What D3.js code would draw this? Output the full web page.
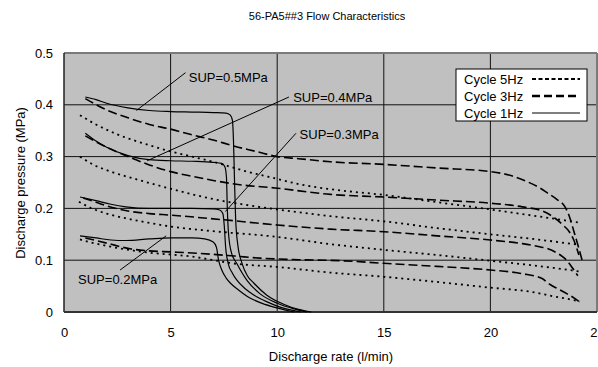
<!DOCTYPE html>
<html>
<head>
<meta charset="utf-8">
<script src="https://cdn.jsdelivr.net/npm/d3@7"></script>
<style>
  body { margin: 0; background: #fff; }
  svg { display: block; font-family: "Liberation Sans", Arial, sans-serif; }
</style>
</head>
<body>
<svg id="chart" width="598" height="367"></svg>
<script>
// axis ticks
const xTicks = [0, 5, 10, 15, 20, 25];
const yTicks = [0, 0.1, 0.2, 0.3, 0.4, 0.5];

// Cycle 1Hz (solid)
const c1_05 = [[1,0.415],[1.5,0.41],[2,0.403],[3,0.394],[4,0.389],[5,0.387],[6,0.386],[7,0.385],[7.6,0.384],[7.8,0.38],[7.9,0.37],[7.95,0.33],[8.0,0.25],[8.05,0.18],[8.15,0.13],[8.35,0.094],[8.6,0.07],[8.9,0.056],[9.5,0.033],[10.3,0.015],[11,0.005],[11.6,0]];
const c1_04 = [[1,0.345],[1.5,0.33],[2,0.318],[3,0.302],[4,0.294],[5,0.292],[6,0.291],[7,0.289],[7.4,0.287],[7.55,0.28],[7.62,0.26],[7.66,0.2],[7.72,0.15],[7.85,0.115],[8.1,0.094],[8.6,0.06],[9.2,0.035],[10,0.017],[10.8,0.006],[11.4,0]];
const c1_03 = [[0.75,0.222],[1.5,0.215],[2.2,0.208],[2.9,0.203],[4,0.2],[5,0.2],[6,0.2],[7,0.199],[7.3,0.197],[7.45,0.19],[7.52,0.165],[7.58,0.126],[7.7,0.094],[7.9,0.075],[8.1,0.062],[8.5,0.045],[8.9,0.033],[9.5,0.02],[10.1,0.01],[11.1,0]];
const c1_02 = [[0.75,0.147],[1.5,0.143],[2.2,0.139],[2.9,0.138],[4,0.141],[5,0.143],[6,0.143],[6.6,0.141],[7.0,0.135],[7.15,0.125],[7.25,0.1],[7.4,0.081],[7.6,0.066],[7.8,0.056],[8.2,0.042],[8.6,0.03],[9.2,0.018],[9.8,0.01],[10.8,0]];

// Cycle 3Hz (dashed)
const c3_05 = [[1,0.412],[2,0.39],[3,0.375],[4,0.362],[5,0.353],[6,0.342],[7,0.332],[8,0.32],[9,0.31],[10,0.30],[11,0.296],[12.5,0.29],[15,0.285],[17.5,0.278],[20,0.271],[21,0.263],[21.7,0.252],[22.3,0.24],[22.7,0.229],[23.1,0.218],[23.5,0.203],[23.7,0.185],[23.9,0.158],[24.1,0.13],[24.3,0.1]];
const c3_04 = [[1,0.34],[2,0.318],[3,0.3],[4,0.284],[5,0.271],[6,0.262],[7,0.254],[8,0.247],[10,0.239],[12.5,0.227],[15,0.222],[17.5,0.216],[20,0.21],[21.5,0.203],[22.5,0.194],[23,0.182],[23.4,0.168],[23.7,0.155],[23.9,0.14],[24.15,0.11]];
const c3_03 = [[0.9,0.22],[1.5,0.212],[2,0.205],[3,0.195],[4,0.19],[5,0.187],[7.5,0.178],[10,0.168],[12.5,0.16],[15,0.155],[17.5,0.147],[20,0.139],[21.5,0.132],[22.3,0.126],[22.7,0.122],[23.2,0.112],[23.5,0.103],[23.8,0.088],[24.1,0.07]];
const c3_02 = [[1,0.143],[2,0.133],[3.1,0.122],[4,0.118],[5,0.116],[6.4,0.113],[8,0.108],[9.2,0.104],[11,0.101],[13,0.099],[15,0.094],[17.5,0.088],[20,0.081],[21.5,0.074],[22.4,0.065],[22.8,0.053],[23.2,0.044],[23.6,0.035],[24,0.025],[24.25,0.017]];

// Cycle 5Hz (dotted)
const c5_05 = [[0.75,0.38],[1.5,0.362],[2.5,0.343],[4,0.322],[5,0.31],[6,0.3],[7,0.29],[8.5,0.272],[10,0.257],[11,0.247],[12.5,0.237],[15,0.226],[17.5,0.212],[20,0.198],[22,0.186],[23,0.18],[24.1,0.173]];
const c5_04 = [[0.75,0.30],[1.4,0.284],[2.2,0.271],[3.5,0.255],[5,0.238],[7,0.218],[8.5,0.207],[10,0.198],[12.5,0.185],[15,0.175],[17.5,0.162],[20,0.15],[22,0.141],[23,0.136],[24.1,0.13]];
const c5_03 = [[0.7,0.213],[1.3,0.2],[2,0.19],[3,0.18],[4,0.172],[5,0.165],[7,0.156],[10,0.145],[12.5,0.131],[15,0.12],[17.5,0.11],[20,0.099],[22,0.09],[23,0.085],[24.2,0.078]];
const c5_02 = [[0.75,0.14],[1.5,0.132],[2.2,0.126],[3.7,0.116],[6,0.107],[8.1,0.093],[10,0.087],[12.5,0.076],[15,0.068],[17.5,0.058],[20,0.047],[21.9,0.039],[23,0.03],[24,0.022],[24.2,0.02]];

const legendNames = ["Cycle 5Hz", "Cycle 3Hz", "Cycle 1Hz"];

// SUP labels: text, text anchor point, leader end
const supLabels = ["SUP=0.5MPa", "SUP=0.4MPa", "SUP=0.3MPa", "SUP=0.2MPa"];
const supTextPos = [[5.85,0.453],[10.75,0.415],[11.05,0.342],[0.66,0.062]];
const supLeader = [[[5.7,0.462],[3.4,0.389]], [[10.55,0.415],[3.9,0.292]], [[10.88,0.345],[7.57,0.194]], [[2.63,0.081],[4.79,0.147]]];

const svg = d3.select("#chart");
const x = d3.scaleLinear().domain([0, 25]).range([64, 597]);
const y = d3.scaleLinear().domain([0, 0.5]).range([312, 53]);

// title
svg.append("text").attr("x", 327).attr("y", 20).attr("text-anchor", "middle")
  .attr("font-size", 11).text("56-PA5##3 Flow Characteristics");

// plot area
svg.append("rect").attr("x", x(0)).attr("y", y(0.5))
  .attr("width", x(25) - x(0)).attr("height", y(0) - y(0.5))
  .attr("fill", "#c0c0c0");

// grid
svg.append("g").selectAll("line").data(xTicks.slice(1, -1)).join("line")
  .attr("x1", d => x(d)).attr("x2", d => x(d))
  .attr("y1", y(0.5)).attr("y2", y(0))
  .attr("stroke", "#111").attr("stroke-width", 1);
svg.append("g").selectAll("line").data(yTicks.slice(1, -1)).join("line")
  .attr("x1", x(0)).attr("x2", x(25))
  .attr("y1", d => y(d)).attr("y2", d => y(d))
  .attr("stroke", "#111").attr("stroke-width", 1);

// borders
svg.append("line").attr("x1", x(0)).attr("x2", x(25)).attr("y1", y(0.5)).attr("y2", y(0.5))
  .attr("stroke", "#7a7a7a").attr("stroke-width", 2);
svg.append("line").attr("x1", x(25)).attr("x2", x(25)).attr("y1", y(0.5)).attr("y2", y(0))
  .attr("stroke", "#7a7a7a").attr("stroke-width", 2);
svg.append("line").attr("x1", x(0)).attr("x2", x(0)).attr("y1", y(0.5)).attr("y2", y(0))
  .attr("stroke", "#222").attr("stroke-width", 1.5);
svg.append("line").attr("x1", x(0)).attr("x2", x(25)).attr("y1", y(0)).attr("y2", y(0))
  .attr("stroke", "#333").attr("stroke-width", 2);

// axes
const xAxis = svg.append("g").attr("transform", `translate(0,${y(0)})`)
  .call(d3.axisBottom(x).tickValues(xTicks).tickSize(0).tickPadding(16).tickFormat(d3.format("d")));
const yAxis = svg.append("g").attr("transform", `translate(${x(0)},0)`)
  .call(d3.axisLeft(y).tickValues(yTicks).tickSize(0).tickPadding(11).tickFormat(d => d === 0 ? "0" : d3.format(".1f")(d)));
[xAxis, yAxis].forEach(a => {
  a.select(".domain").remove();
  a.selectAll("text").attr("font-size", 13).attr("fill", "#000")
    .attr("font-family", "Liberation Sans, Arial, sans-serif");
});

svg.append("text").attr("x", 331).attr("y", 361).attr("text-anchor", "middle")
  .attr("font-size", 13).text("Discharge rate (l/min)");
svg.append("text").attr("transform", "translate(25,183) rotate(-90)").attr("text-anchor", "middle")
  .attr("font-size", 13).text("Discharge pressure (MPa)");

// curves
const line = d3.line().x(d => x(d[0])).y(d => y(d[1])).curve(d3.curveMonotoneX);
const styles = {
  c5: { dash: "2,4", w: 1.8 },
  c3: { dash: "9,4", w: 1.6 },
  c1: { dash: null, w: 1.2 }
};
const series = [
  [c5_05, "c5"], [c5_04, "c5"], [c5_03, "c5"], [c5_02, "c5"],
  [c3_05, "c3"], [c3_04, "c3"], [c3_03, "c3"], [c3_02, "c3"],
  [c1_05, "c1"], [c1_04, "c1"], [c1_03, "c1"], [c1_02, "c1"]
];
svg.append("g").selectAll("path").data(series).join("path")
  .attr("d", d => line(d[0]))
  .attr("fill", "none").attr("stroke", "#000")
  .attr("stroke-width", d => styles[d[1]].w)
  .attr("stroke-dasharray", d => styles[d[1]].dash);

// SUP annotations
const ann = svg.append("g");
supLabels.forEach((t, i) => {
  ann.append("line")
    .attr("x1", x(supLeader[i][0][0])).attr("y1", y(supLeader[i][0][1]))
    .attr("x2", x(supLeader[i][1][0])).attr("y2", y(supLeader[i][1][1]))
    .attr("stroke", "#000").attr("stroke-width", 1);
  ann.append("text").attr("x", x(supTextPos[i][0])).attr("y", y(supTextPos[i][1]))
    .attr("dy", "0.35em").attr("font-size", 13).text(t);
});

// legend
const lg = svg.append("g");
lg.append("rect").attr("x", 456).attr("y", 69).attr("width", 131).attr("height", 52)
  .attr("fill", "#fff").attr("stroke", "#000").attr("stroke-width", 1);
const legendStyles = [{ dash: "4,2.5", w: 2.2 }, { dash: "8,4", w: 2.5 }, { dash: null, w: 1.2 }];
legendNames.forEach((n, i) => {
  const cy = 79 + i * 17;
  lg.append("text").attr("x", 464).attr("y", cy).attr("dy", "0.35em")
    .attr("font-size", 13).text(n);
  lg.append("line").attr("x1", 532).attr("x2", 580).attr("y1", cy).attr("y2", cy)
    .attr("stroke", "#000").attr("stroke-width", legendStyles[i].w)
    .attr("stroke-dasharray", legendStyles[i].dash);
});
</script>
</body>
</html>
